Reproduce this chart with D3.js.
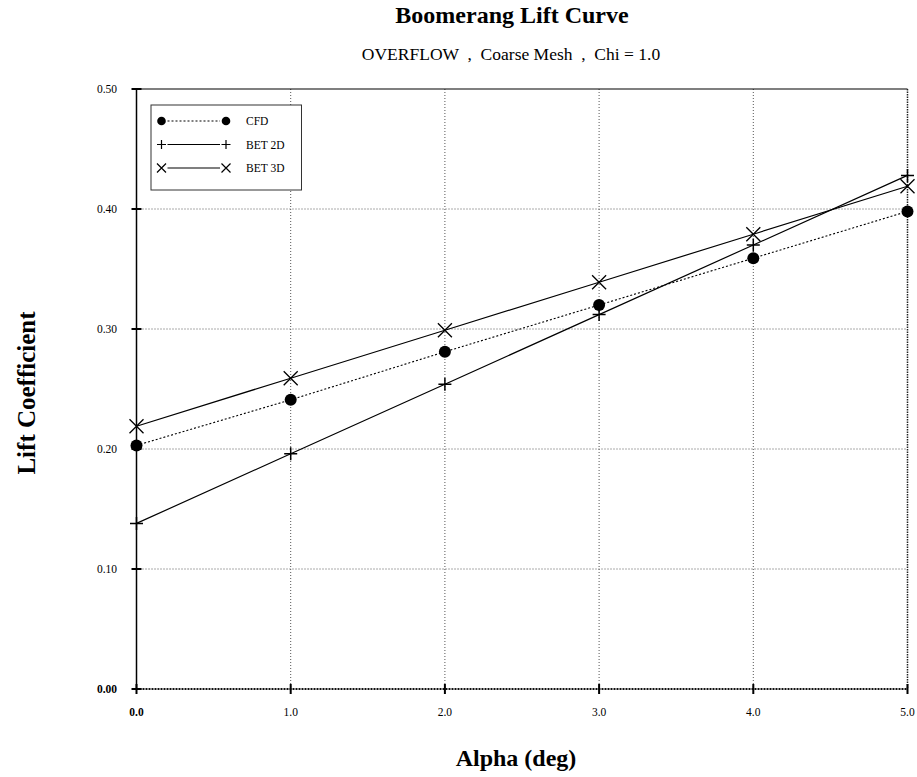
<!DOCTYPE html>
<html>
<head>
<meta charset="utf-8">
<script src="https://cdn.jsdelivr.net/npm/d3@7"></script>
<style>
  html, body { margin: 0; padding: 0; background: #fff; }
  svg { display: block; font-family: "Liberation Serif", "Times New Roman", serif; }
</style>
</head>
<body>
<svg id="chart" width="917" height="777"></svg>
<script>
// ---- data ----
const alpha = [0, 1, 2, 3, 4, 5];
const cfd   = [0.203, 0.241, 0.281, 0.320, 0.359, 0.398];
const bet2d = [0.138, 0.196, 0.254, 0.312, 0.370, 0.428];
const bet3d = [0.219, 0.259, 0.299, 0.339, 0.379, 0.419];
const xTickValues = [0, 1, 2, 3, 4, 5];
const xTickLabels = ["0.0", "1.0", "2.0", "3.0", "4.0", "5.0"];
const yTickValues = [0, 0.1, 0.2, 0.3, 0.4, 0.5];
const yTickLabels = ["0.00", "0.10", "0.20", "0.30", "0.40", "0.50"];
const seriesNames = ["CFD", "BET 2D", "BET 3D"];

const svg = d3.select("#chart");
const x = d3.scaleLinear().domain([0, 5]).range([136.5, 907.5]);
const y = d3.scaleLinear().domain([0, 0.5]).range([689, 89]);

// grid
const g = svg.append("g");
g.selectAll(".vg").data(xTickValues.filter(v => v > 0 && v < 5)).enter().append("line")
  .attr("x1", d => x(d)).attr("x2", d => x(d)).attr("y1", y(0.5)).attr("y2", y(0))
  .attr("stroke", "#555").attr("stroke-width", 1).attr("stroke-dasharray", "1,2");
g.selectAll(".hg").data(yTickValues.filter(v => v > 0 && v < 0.5)).enter().append("line")
  .attr("x1", x(0)).attr("x2", x(5)).attr("y1", d => y(d)).attr("y2", d => y(d))
  .attr("stroke", "#555").attr("stroke-width", 1).attr("stroke-dasharray", "1,2");

// frame
g.append("line").attr("x1", x(0)).attr("x2", x(5)).attr("y1", y(0.5)).attr("y2", y(0.5))
  .attr("stroke", "#000").attr("stroke-width", 1.2);
g.append("line").attr("x1", x(5)).attr("x2", x(5)).attr("y1", y(0.5)).attr("y2", y(0))
  .attr("stroke", "#222").attr("stroke-width", 1.5).attr("stroke-dasharray", "1.5,1");
g.append("line").attr("x1", x(0)).attr("x2", x(5)).attr("y1", y(0)).attr("y2", y(0))
  .attr("stroke", "#111").attr("stroke-width", 2).attr("stroke-dasharray", "2,1");
g.append("line").attr("x1", x(0)).attr("x2", x(0)).attr("y1", y(0.5)).attr("y2", y(0))
  .attr("stroke", "#000").attr("stroke-width", 1.5);

// ticks
g.selectAll(".yt").data(yTickValues).enter().append("line")
  .attr("x1", x(0) - 5).attr("x2", x(0) + 5).attr("y1", d => y(d)).attr("y2", d => y(d))
  .attr("stroke", "#000").attr("stroke-width", 2);
g.selectAll(".xt").data(xTickValues).enter().append("line")
  .attr("x1", d => x(d)).attr("x2", d => x(d)).attr("y1", y(0) - 5).attr("y2", y(0) + 5)
  .attr("stroke", "#000").attr("stroke-width", 2);

// tick labels
g.selectAll(".yl").data(yTickValues).enter().append("text")
  .attr("x", 117).attr("y", d => y(d) + 4)
  .attr("text-anchor", "end").attr("font-size", 11.5)
  .attr("font-weight", (d, i) => i === 0 ? "bold" : "normal")
  .text((d, i) => yTickLabels[i]);
g.selectAll(".xl").data(xTickValues).enter().append("text")
  .attr("x", d => x(d)).attr("y", 716)
  .attr("text-anchor", "middle").attr("font-size", 11.5)
  .attr("font-weight", (d, i) => i === 0 ? "bold" : "normal")
  .text((d, i) => xTickLabels[i]);

// titles
svg.append("text").attr("x", 512).attr("y", 23).attr("text-anchor", "middle")
  .attr("font-size", 24).attr("font-weight", "bold").text("Boomerang Lift Curve");
svg.append("text").attr("x", 511).attr("y", 60).attr("text-anchor", "middle")
  .attr("font-size", 17.5).attr("xml:space", "preserve").style("white-space", "pre")
  .text("OVERFLOW  ,  Coarse Mesh  ,  Chi = 1.0");
svg.append("text").attr("x", 516).attr("y", 766).attr("text-anchor", "middle")
  .attr("font-size", 24).attr("font-weight", "bold").text("Alpha (deg)");
svg.append("text").attr("transform", "translate(35,393) rotate(-90)").attr("text-anchor", "middle")
  .attr("font-size", 25).attr("font-weight", "bold").text("Lift Coefficient");

// marker helpers
function plusPath(s) { return `M${-s},0H${s}M0,${-s}V${s}`; }
function xPath(s) { return `M${-s},${-s}L${s},${s}M${-s},${s}L${s},${-s}`; }

const line = d3.line().x((d, i) => x(alpha[i])).y(d => y(d));

// series lines
svg.append("path").datum(cfd).attr("d", line).attr("fill", "none")
  .attr("stroke", "#000").attr("stroke-width", 1.1).attr("stroke-dasharray", "2,2");
svg.append("path").datum(bet2d).attr("d", line).attr("fill", "none")
  .attr("stroke", "#000").attr("stroke-width", 1.2);
svg.append("path").datum(bet3d).attr("d", line).attr("fill", "none")
  .attr("stroke", "#000").attr("stroke-width", 1.2);

// markers
svg.selectAll(".m1").data(cfd).enter().append("circle")
  .attr("cx", (d, i) => x(alpha[i])).attr("cy", d => y(d)).attr("r", 6).attr("fill", "#000");
svg.selectAll(".m2").data(bet2d).enter().append("path")
  .attr("transform", (d, i) => `translate(${x(alpha[i])},${y(d)})`)
  .attr("d", plusPath(6.5)).attr("stroke", "#000").attr("stroke-width", 1.5).attr("fill", "none");
svg.selectAll(".m3").data(bet3d).enter().append("path")
  .attr("transform", (d, i) => `translate(${x(alpha[i])},${y(d)})`)
  .attr("d", xPath(7)).attr("stroke", "#000").attr("stroke-width", 1.3).attr("fill", "none");

// legend
const lg = svg.append("g");
lg.append("rect").attr("x", 151).attr("y", 105).attr("width", 150.5).attr("height", 85)
  .attr("fill", "#fff").attr("stroke", "#333").attr("stroke-width", 1);
const rows = [121, 144.5, 168];
const lx1 = 161.5, lx2 = 226;
seriesNames.forEach((name, i) => {
  const ry = rows[i];
  const ln = lg.append("line").attr("x1", lx1 + 6).attr("x2", lx2 - 6).attr("y1", ry).attr("y2", ry)
    .attr("stroke", "#000").attr("stroke-width", 1.1);
  if (i === 0) ln.attr("stroke-dasharray", "2,2");
  [lx1, lx2].forEach(px => {
    if (i === 0) lg.append("circle").attr("cx", px).attr("cy", ry).attr("r", 4.3).attr("fill", "#000");
    else lg.append("path").attr("transform", `translate(${px},${ry})`)
      .attr("d", i === 1 ? plusPath(4.5) : xPath(4.5))
      .attr("stroke", "#000").attr("stroke-width", 1.2).attr("fill", "none");
  });
  lg.append("text").attr("x", 246).attr("y", ry + 4).attr("font-size", 11.5).text(name);
});
</script>
</body>
</html>
